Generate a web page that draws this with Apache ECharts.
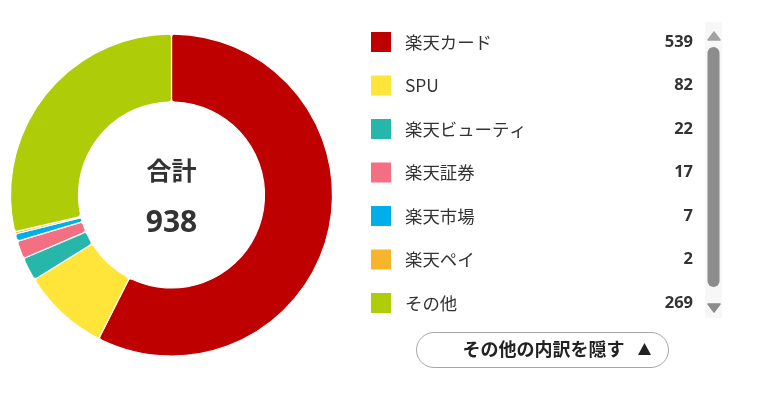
<!DOCTYPE html>
<html><head><meta charset="utf-8">
<script src="https://cdn.jsdelivr.net/npm/echarts@6/dist/echarts.min.js"></script>
<style>html,body{margin:0;padding:0;background:#fff}#c{width:772px;height:394px}</style>
</head><body><div id="c"></div>
<script>
const categories = ['楽天カード','SPU','楽天ビューティ','楽天証券','楽天市場','楽天ペイ','その他'];
const values = [539, 82, 22, 17, 7, 2, 269];
const colors = ['#bf0000','#ffe43a','#26b7aa','#f56f82','#00aeea','#f7b52c','#aecc07'];
const totalLabel = '合計';
const buttonLabel = 'その他の内訳を隠す';

const total = values.reduce((a,b)=>a+b,0);
const font = '"Noto Sans CJK JP", "Noto Sans", sans-serif';
const numFont = '"Open Sans", Roboto, sans-serif';
const chart = echarts.init(document.getElementById('c'), null, {renderer:'canvas'});
chart.setOption({
  animation:false,
  color: colors,
  legend:{
    orient:'vertical', left:366, top:27,
    itemWidth:20, itemHeight:20, itemGap:23.5,
    icon:'rect', selectedMode:false,
    itemStyle:{borderWidth:0},
    data: categories,
    formatter: n => `{n|${n}}{v|${values[categories.indexOf(n)]}}`,
    textStyle:{
      rich:{
        n:{fontFamily:font, fontSize:17.4, color:'#333', width:240, padding:[0,0,0,9], lineHeight:20},
        v:{fontFamily:numFont, fontSize:16.5, fontWeight:'bold', color:'#333', width:48, align:'right', lineHeight:20}
      }
    }
  },
  series:[{
    type:'pie',
    center:[171.5,195], radius:[93,161],
    startAngle:90, clockwise:true,
    label:{show:false}, labelLine:{show:false},
    itemStyle:{borderColor:'#fff', borderWidth:1.2, borderRadius:3},
    emphasis:{disabled:true},
    data: categories.map((c,i)=>({name:c, value:values[i]}))
  }],
  graphic:[
    {type:'text', x:171.5, y:170, style:{text:totalLabel, font:'bold 25px '+font, fill:'#333', align:'center', verticalAlign:'middle'}},
    {type:'text', x:171.5, y:223, style:{text:String(total), font:'bold 30px '+numFont, fill:'#333', align:'center', verticalAlign:'middle'}},
    {type:'rect', shape:{x:705, y:22, width:17, height:296}, style:{fill:'#f7f7f7'}},
    {type:'rect', shape:{x:707.5, y:47, width:12, height:240, r:6}, style:{fill:'#8c8c8c'}},
    {type:'polygon', shape:{points:[[708,40],[720,40],[714,32]]}, style:{fill:'#a3a3a3', stroke:'#a3a3a3', lineWidth:1.5, lineJoin:'round'}},
    {type:'polygon', shape:{points:[[708,304],[720,304],[714,312]]}, style:{fill:'#8c8c8c', stroke:'#8c8c8c', lineWidth:1.5, lineJoin:'round'}},
    {type:'rect', shape:{x:416.5, y:332.5, width:252, height:35, r:17.5}, style:{fill:'#fff', stroke:'#a6a6a6', lineWidth:1}},
    {type:'text', x:543.5, y:349, style:{text:buttonLabel, font:'bold 18px '+font, fill:'#222', align:'center', verticalAlign:'middle'}},
    {type:'polygon', shape:{points:[[638,355],[651,355],[644.5,343]]}, style:{fill:'#222'}}
  ]
});
</script></body></html>
